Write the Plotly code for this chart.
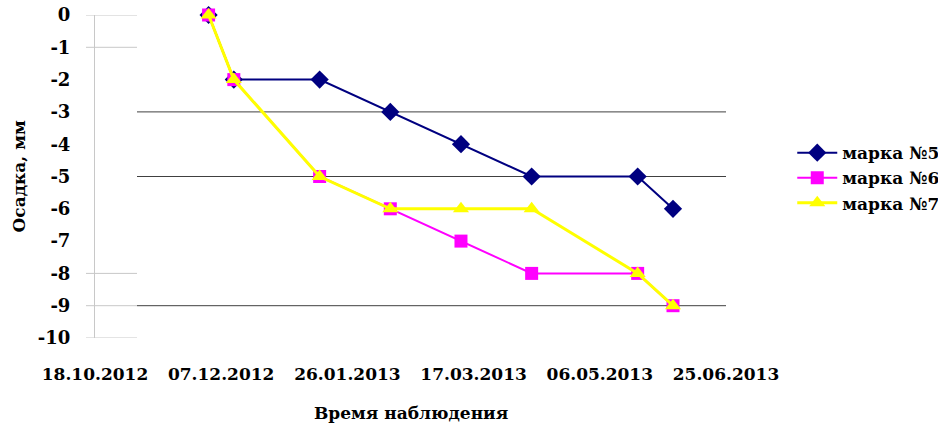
import plotly.graph_objects as go
from datetime import date, timedelta

# ---- data ----
dates = ["2012-12-02", "2012-12-12", "2013-01-15", "2013-02-12",
         "2013-03-12", "2013-04-09", "2013-05-21", "2013-06-04"]
mark5 = [0, -2, -2, -3, -4, -5, -5, -6]
mark6 = [0, -2, -5, -6, -7, -8, -8, -9]
mark7 = [0, -2, -5, -6, -6, -6, -8, -9]
series_names = ["марка №5", "марка №6", "марка №7"]

x_start = date(2012, 10, 18)
x_end = date(2013, 6, 25)
x_tick_dates = [x_start + timedelta(days=50 * i) for i in range(6)]
x_tick_text = ["<b>%s</b>" % d.strftime("%d.%m.%Y") for d in x_tick_dates]
y_ticks = list(range(0, -11, -1))
y_tick_text = ["<b>%d</b>" % v for v in y_ticks]
dark_grid = [-3, -5, -9]
light_stubs = [0, -1, -8, -9, -10]

FONT = "DejaVu Serif"

fig = go.Figure()
fig.add_trace(go.Scatter(
    x=dates, y=mark5, name="<b>%s</b>" % series_names[0], mode="lines+markers",
    line=dict(color="#000080", width=2),
    marker=dict(symbol="diamond", size=14, color="#000080"),
    cliponaxis=False))
fig.add_trace(go.Scatter(
    x=dates, y=mark6, name="<b>%s</b>" % series_names[1], mode="lines+markers",
    line=dict(color="#FF00FF", width=2),
    marker=dict(symbol="square", size=13, color="#FF00FF"),
    cliponaxis=False))
fig.add_trace(go.Scatter(
    x=dates, y=mark7, name="<b>%s</b>" % series_names[2], mode="lines+markers",
    line=dict(color="#FFFF00", width=3),
    marker=dict(symbol="triangle-up", size=14, color="#FFFF00"),
    cliponaxis=False))

shapes = []
for v in dark_grid:
    shapes.append(dict(type="line", xref="paper", yref="y",
                       x0=42 / 631, x1=1, y0=v, y1=v,
                       line=dict(color="#404040", width=1), layer="below"))
for v in light_stubs:
    shapes.append(dict(type="line", xref="paper", yref="y",
                       x0=-9 / 631, x1=42 / 631, y0=v, y1=v,
                       line=dict(color="#c8c8c8", width=1), layer="below"))

fig.update_layout(
    width=938, height=426,
    margin=dict(l=95, r=212, t=15, b=88, autoexpand=False),
    paper_bgcolor="white", plot_bgcolor="white",
    font=dict(family=FONT, color="black"),
    shapes=shapes,
    showlegend=True,
    legend=dict(x=1.105, y=0.495, xanchor="left", yanchor="middle",
                font=dict(family=FONT, size=17, color="black"),
                tracegroupgap=0, itemwidth=40, bgcolor="rgba(0,0,0,0)"),
    xaxis=dict(type="date", automargin=False,
               range=[x_start.isoformat(), x_end.isoformat()],
               tickvals=[d.isoformat() for d in x_tick_dates],
               ticktext=x_tick_text, tickangle=0,
               showgrid=False, zeroline=False, showline=False, ticks="",
               ticklabelstandoff=24,
               tickfont=dict(family=FONT, size=17, color="black")),
    yaxis=dict(range=[-10, 0], automargin=False,
               tickvals=y_ticks, ticktext=y_tick_text,
               showgrid=False, zeroline=False,
               showline=True, linecolor="#c8c8c8", linewidth=1, ticks="",
               ticklabelstandoff=20,
               tickfont=dict(family=FONT, size=18, color="black")),
    annotations=[
        dict(text="<b>Время наблюдения</b>", xref="paper", yref="paper",
             x=0.5, y=-0.232, xanchor="center", yanchor="middle", showarrow=False,
             font=dict(family=FONT, size=17, color="black")),
        dict(text="<b>Осадка, мм</b>", xref="paper", yref="paper",
             x=-77 / 631, y=0.5, xanchor="center", yanchor="middle", showarrow=False,
             textangle=-90,
             font=dict(family=FONT, size=17, color="black")),
    ],
)

fig.write_html("out.html")
